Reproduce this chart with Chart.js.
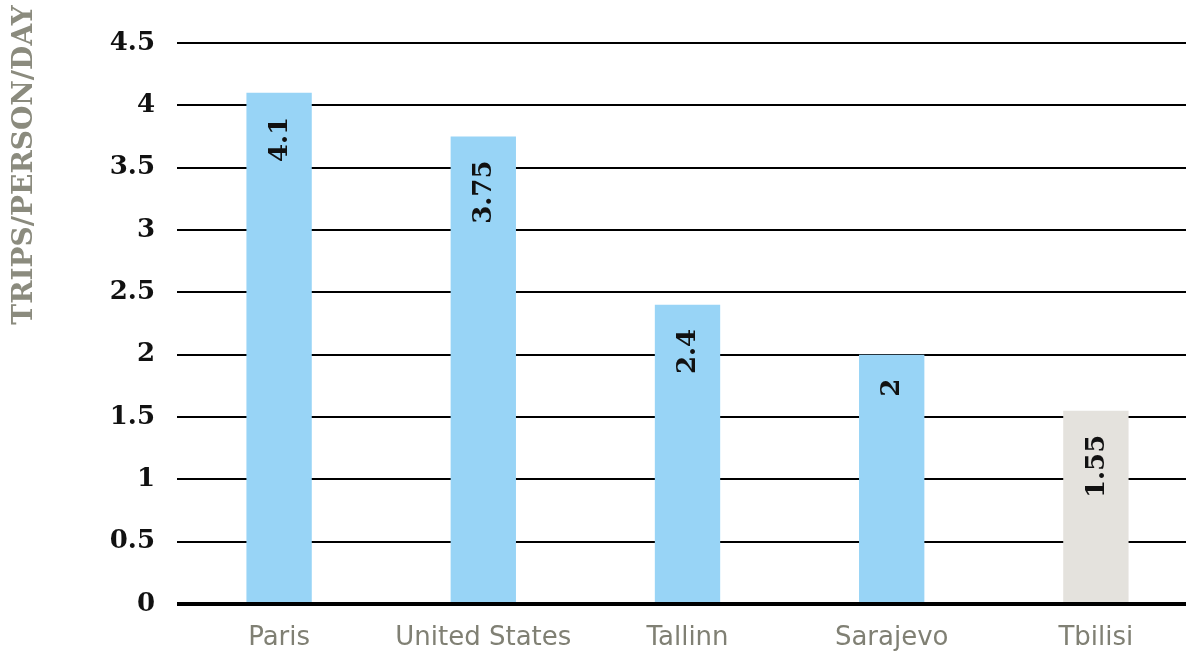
<!DOCTYPE html>
<html>
<head>
<meta charset="utf-8">
<script src="https://cdn.jsdelivr.net/npm/chart.js@4/dist/chart.umd.min.js"></script>
<style>
  html, body { margin: 0; padding: 0; background: #ffffff; overflow: hidden; }
  #wrap { width: 1200px; height: 657px; position: relative; }
</style>
</head>
<body>
<div id="wrap"><canvas id="c"></canvas></div>
<script>
const categories = ['Paris', 'United States', 'Tallinn', 'Sarajevo', 'Tbilisi'];
const tripsPerDay = [4.1, 3.75, 2.4, 2, 1.55];
const barColors = ['#98d4f6', '#98d4f6', '#98d4f6', '#98d4f6', '#e4e2dd'];
const yTitle = 'TRIPS/PERSON/DAY';
const yMin = 0, yMax = 4.5, yStep = 0.5;

const barLabels = {
  id: 'barLabels',
  afterDatasetsDraw(chart) {
    const ctx = chart.ctx;
    const meta = chart.getDatasetMeta(0);
    ctx.save();
    ctx.font = 'bold 26px "DejaVu Serif"';
    ctx.fillStyle = '#111111';
    ctx.textAlign = 'right';
    ctx.textBaseline = 'middle';
    meta.data.forEach((bar, i) => {
      ctx.save();
      ctx.translate(bar.x, bar.y + 24);
      ctx.rotate(-Math.PI / 2);
      ctx.fillText(String(tripsPerDay[i]), 0, 1);
      ctx.restore();
    });
    ctx.restore();
  }
};

const yTitlePlugin = {
  id: 'yTitlePlugin',
  afterDraw(chart) {
    const ctx = chart.ctx;
    ctx.save();
    ctx.font = 'bold 28px "DejaVu Serif"';
    ctx.fillStyle = '#8b8b7e';
    ctx.textAlign = 'center';
    ctx.textBaseline = 'middle';
    ctx.translate(25, 165);
    ctx.rotate(-Math.PI / 2);
    ctx.fillText(yTitle, 0, 0);
    ctx.restore();
  }
};

new Chart(document.getElementById('c'), {
  type: 'bar',
  data: {
    labels: categories,
    datasets: [{
      data: tripsPerDay,
      backgroundColor: barColors,
      borderWidth: 0,
      barPercentage: 0.32,
      categoryPercentage: 1
    }]
  },
  options: {
    responsive: true,
    maintainAspectRatio: false,
    animation: false,
    events: [],
    layout: { padding: { top: 43, right: 2, left: 0, bottom: 0 } },
    plugins: { legend: { display: false }, tooltip: { enabled: false } },
    scales: {
      x: {
        grid: { display: false, drawTicks: false },
        border: { display: false },
        ticks: {
          color: '#808074',
          font: { family: '"DejaVu Sans"', size: 26 },
          padding: 19,
          maxRotation: 0
        },
        afterFit(scale) { scale.height = 53; }
      },
      y: {
        min: yMin,
        max: yMax,
        border: { display: false },
        grid: {
          color: '#000000',
          lineWidth: (c) => (c.tick && c.tick.value === 0 ? 4 : 2),
          drawTicks: false
        },
        ticks: {
          stepSize: yStep,
          color: '#111111',
          font: { family: '"DejaVu Serif"', size: 26, weight: 'bold' },
          padding: 22,
          callback: (v) => String(v)
        },
        afterFit(scale) { scale.width = 177; }
      }
    }
  },
  plugins: [barLabels, yTitlePlugin]
});
</script>
</body>
</html>
